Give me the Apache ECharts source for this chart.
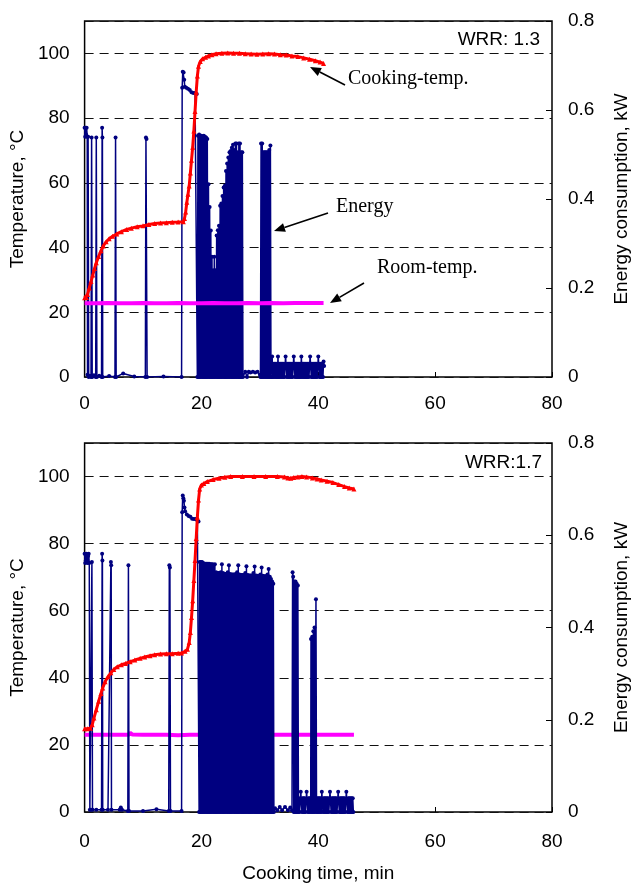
<!DOCTYPE html>
<html>
<head>
<meta charset="utf-8">
<script src="https://cdn.jsdelivr.net/npm/echarts@6/dist/echarts.min.js"></script>
<style>
html,body{margin:0;padding:0;background:#fff;}
#c{width:639px;height:887px;}
</style>
</head>
<body>
<div id="c"></div>
<script>
// ---------- DATA ----------
const xTicks = [0, 20, 40, 60, 80];
const tempTicks = [0, 20, 40, 60, 80, 100];
const energyTicks = [0, 0.2, 0.4, 0.6, 0.8];
const panelLabels = ['WRR: 1.3', 'WRR:1.7'];

// Panel 1 (WRR 1.3): [time min, temperature °C]
const cookTemp13 = [[0,24.5],[0.3,24.6],[0.5,25.5],[0.8,27.5],[1.1,29.5],[1.4,31.5],[1.7,33.5],[2.0,35.3],[2.4,37.2],[2.8,39],[3.2,40.5],[3.7,41.8],[4.2,42.7],[4.8,43.5],[5.5,44.2],[6.3,44.9],[7.2,45.6],[8.0,46.0],[9.0,46.4],[10,46.7],[11,47.1],[12,47.4],[13,47.6],[14,47.7],[15,47.8],[16,47.9],[16.9,48.0],[17.1,49],[17.3,51],[17.5,54],[17.7,56.5],[17.9,59],[18.1,63],[18.3,67],[18.5,71],[18.7,76],[18.9,82],[19.1,88],[19.3,93],[19.5,96],[19.8,97.5],[20.2,98.3],[20.7,98.8],[21.2,99.2],[21.8,99.6],[22.5,99.9],[23.5,100],[24.5,100.1],[25.5,100],[26.5,100],[27.5,99.9],[28.5,99.8],[29.5,99.7],[30.5,99.8],[31.5,99.9],[32.5,99.8],[33.5,99.6],[34.5,99.5],[35.5,99.2],[36.5,99],[37.5,98.6],[38.5,98.2],[39.5,97.7],[40.3,97.3],[40.9,96.9]];
const roomTemp13 = [[0,22.8],[2,22.8],[4,22.9],[6,22.8],[8,22.8],[10,22.9],[12,22.8],[14,22.8],[16,22.9],[18,22.8],[20,22.8],[22,22.9],[24,22.8],[26,22.8],[28,22.9],[30,22.8],[32,22.9],[34,22.8],[36,22.9],[38,22.9],[40.9,22.9]];
// [time min, energy kW]
const energy13 = [[0,0.56],[0.1,0.54],[0.15,0.56],[0.25,0.545],[0.35,0.56],[0.45,0.54],[0.5,0.005],[0.6,0.54],[0.7,0],[0.9,0.003],[1.1,0],[1.2,0.538],[1.3,0],[1.6,0.004],[1.9,0],[2.0,0.538],[2.1,0],[2.5,0.003],[2.9,0],[3.0,0.56],[3.05,0.538],[3.1,0],[4.2,0.002],[5.2,0],[5.3,0.538],[5.4,0],[6.6,0.008],[8.5,0.001],[10.4,0],[10.5,0.538],[10.6,0.535],[10.7,0],[13.5,0.001],[16.6,0],[16.7,0.65],[16.8,0.686],[16.95,0.684],[17.05,0.668],[17.15,0.652],[17.4,0.65],[17.7,0.648],[18.0,0.645],[18.3,0.64],[18.6,0.638],[18.9,0.638],[19.2,0.636],[19.3,0],
[19.4,0.542],[19.5,0],[19.6,0.545],[19.7,0],[19.8,0.54],[19.9,0],[20.0,0.542],[20.1,0],[20.2,0.54],[20.3,0],[20.4,0.542],[20.5,0],[20.6,0.54],[20.7,0],[20.8,0.538],[20.9,0],[21.0,0.535],[21.1,0],[21.2,0.433],[21.3,0],[21.4,0.382],[21.5,0],[21.6,0.329],[21.7,0],[21.8,0.27],[21.9,0],[22.0,0.24],[22.1,0],[22.2,0.27],[22.3,0],[22.4,0.24],[22.5,0],[22.6,0.318],[22.7,0],[22.8,0.33],[22.9,0],[23.0,0.34],[23.1,0],[23.2,0.385],[23.3,0],[23.4,0.39],[23.5,0],[23.6,0.407],[23.7,0],[23.8,0.426],[23.9,0],[24.0,0.43],[24.1,0],[24.2,0.463],[24.3,0],[24.4,0.48],[24.5,0],[24.6,0.493],[24.7,0],[24.8,0.505],[24.9,0],[25.0,0.508],[25.1,0],[25.2,0.515],[25.3,0],[25.4,0.522],[25.5,0],[25.6,0.51],[25.7,0],[25.8,0.525],[25.9,0],[26.0,0.525],[26.1,0],[26.2,0.505],[26.3,0],[26.4,0.525],[26.5,0],[26.6,0.525],[26.7,0],[26.8,0.505],[26.9,0],[27.0,0.505],[27.1,0],
[27.5,0.012],[27.8,0],[28.1,0.012],[28.4,0.01],[28.8,0.012],[29.2,0.01],[29.6,0.012],[30.0,0.005],[30.1,0],[30.2,0.525],[30.3,0],[30.4,0.525],[30.5,0],[30.6,0.505],[30.7,0],[30.8,0.505],[30.9,0],[31.0,0.505],[31.1,0],[31.2,0.505],[31.3,0],[31.4,0.505],[31.5,0],[31.6,0.51],[31.7,0],[31.8,0.52],[31.9,0],
[32.0,0],[32.1,0.046],[32.2,0],[32.3,0.03],[32.4,0],[32.5,0.03],[32.6,0],[32.7,0.03],[32.8,0],[32.9,0.03],[33.0,0],[33.1,0.046],[33.2,0],[33.3,0.03],[33.4,0],[33.5,0.03],[33.6,0],[33.7,0.03],[33.8,0],[33.9,0.03],[34.0,0],[34.1,0.03],[34.2,0],[34.4,0.046],[34.6,0],[34.7,0.03],[34.8,0],[34.9,0.03],[35.0,0],[35.1,0.03],[35.2,0],[35.3,0.03],[35.4,0],[35.5,0.03],[35.6,0],[35.8,0.046],[36.0,0],[36.1,0.03],[36.2,0],[36.3,0.03],[36.4,0],[36.5,0.03],[36.6,0],[36.7,0.03],[36.8,0],[36.9,0.03],[37.0,0],[37.1,0.046],[37.2,0],[37.3,0.03],[37.4,0],[37.5,0.03],[37.6,0],[37.7,0.03],[37.8,0],[37.9,0.03],[38.0,0],[38.1,0.03],[38.2,0],[38.3,0.03],[38.4,0],[38.6,0.046],[38.8,0],[38.9,0.03],[39.0,0],[39.1,0.03],[39.2,0],[39.3,0.03],[39.4,0],[39.5,0.03],[39.6,0],[39.7,0.03],[39.8,0],[40.0,0.046],[40.2,0],[40.3,0.03],[40.4,0],[40.5,0.03],[40.6,0],[40.7,0.03],[40.8,0],[40.9,0.035],[41.0,0.025]];

// Panel 2 (WRR 1.7)
const cookTemp17 = [[0,24.8],[0.5,24.8],[1.0,25],[1.3,26],[1.6,28],[2.0,30.5],[2.4,33],[2.8,35.3],[3.1,37],[3.5,38.8],[4.0,40.3],[4.5,41.5],[5.0,42.5],[5.6,43.3],[6.3,43.9],[7.0,44.3],[7.8,44.8],[8.6,45.3],[9.5,45.8],[10.3,46.2],[11.2,46.6],[12.0,46.9],[13.0,47.1],[14,47.2],[15,47.2],[16,47.3],[16.6,47.4],[17.2,47.9],[17.6,48.5],[17.9,50.5],[18.1,53.5],[18.3,58],[18.5,63],[18.7,69],[18.9,75],[19.1,81.5],[19.3,87.9],[19.5,93],[19.7,96.3],[20.0,97.5],[20.4,97.9],[21.0,98.5],[22,99.1],[23,99.5],[24,99.8],[25,100],[27,100],[29,100],[31,100],[33,100],[34.2,99.9],[34.8,99.6],[35.3,99.5],[35.8,99.7],[36.5,99.9],[37.2,100],[38,99.9],[39,99.6],[39.8,99.3],[40.5,99],[41.5,98.6],[42.5,98.2],[43.5,97.6],[44.5,97],[45.3,96.6],[46.1,96.3]];
const roomTemp17 = [[0,23],[2,23],[4,23],[6,23],[7.5,23],[7.8,23.6],[8.2,23.1],[10,23],[12,23],[14,23],[16,22.9],[18,23],[20,23],[22,23],[24,23],[26,23],[28,23],[30,23],[32,23],[34,23],[36,23],[38,23],[40,23],[42,23],[44,23],[46.1,23]];
const energy17 = [[0,0.56],[0.1,0.54],[0.2,0.545],[0.3,0.56],[0.4,0.55],[0.5,0.54],[0.6,0.555],[0.7,0.56],[0.8,0.54],[0.9,0.005],[1.1,0.005],[1.25,0.542],[1.35,0.005],[2.0,0.005],[2.9,0.005],[3.0,0.56],[3.05,0.545],[3.1,0.005],[4.0,0.005],[4.5,0.542],[4.55,0.535],[4.6,0.005],[6.0,0.005],[6.2,0.01],[6.4,0.005],[7.4,0.002],[7.5,0.535],[7.6,0.002],[10,0.002],[12.3,0.006],[14.4,0.002],[14.5,0.535],[14.6,0.53],[14.7,0.002],[16.6,0.002],[16.7,0.65],[16.8,0.686],[16.9,0.68],[17.0,0.675],[17.1,0.66],[17.2,0.652],[17.5,0.645],[17.8,0.642],[18.1,0.64],[18.4,0.636],[18.7,0.635],[19.0,0.635],[19.3,0.632],[19.5,0.63],[19.6,0],
[19.7,0.542],[19.8,0],[19.9,0.542],[20.0,0],[20.1,0.542],[20.2,0],[20.3,0.54],[20.4,0],[20.5,0.538],[20.6,0],[20.7,0.538],[20.8,0],[20.9,0.538],[21.0,0],[21.1,0.538],[21.2,0],[21.3,0.538],[21.4,0],[21.5,0.537],[21.6,0],[21.7,0.537],[21.8,0],[21.9,0.537],[22.0,0],[22.1,0.536],[22.2,0],[22.3,0.537],[22.4,0],[22.5,0.52],[22.6,0],[22.7,0.518],[22.8,0],[22.9,0.518],[23.0,0],[23.1,0.518],[23.2,0],[23.3,0.52],[23.4,0],[23.5,0.537],[23.6,0],[23.7,0.518],[23.8,0],[23.9,0.516],[24.0,0],[24.1,0.516],[24.2,0],[24.3,0.516],[24.4,0],[24.5,0.52],[24.6,0],[24.7,0.535],[24.8,0],[24.9,0.516],[25.0,0],[25.1,0.515],[25.2,0],[25.3,0.515],[25.4,0],[25.5,0.515],[25.6,0],[25.7,0.515],[25.8,0],[25.9,0.516],[26.0,0],[26.1,0.52],[26.2,0],[26.3,0.535],[26.4,0],[26.5,0.515],[26.6,0],[26.7,0.514],[26.8,0],[26.9,0.514],[27.0,0],[27.1,0.514],[27.2,0],[27.3,0.514],[27.4,0],[27.5,0.518],[27.6,0],[27.7,0.533],[27.8,0],[27.9,0.514],[28.0,0],[28.1,0.513],[28.2,0],[28.3,0.513],[28.4,0],[28.5,0.513],[28.6,0],[28.7,0.513],[28.8,0],[28.9,0.518],[29.0,0],[29.1,0.532],[29.2,0],[29.3,0.513],[29.4,0],[29.5,0.512],[29.6,0],[29.7,0.512],[29.8,0],[29.9,0.512],[30.0,0],[30.1,0.515],[30.2,0],[30.3,0.53],[30.4,0],[30.5,0.512],[30.6,0],[30.7,0.511],[30.8,0],[30.9,0.511],[31.0,0],[31.1,0.511],[31.2,0],[31.3,0.515],[31.4,0],[31.5,0.527],[31.6,0],[31.7,0.51],[31.8,0],[31.9,0.505],[32.0,0],[32.1,0.5],[32.2,0],[32.3,0.495],[32.4,0],
[32.6,0.008],[33.0,0.004],[33.4,0.011],[33.8,0.004],[34.3,0.011],[34.8,0.004],[35.2,0.01],[35.5,0.004],[35.6,0.52],[35.7,0.51],[35.8,0],[35.9,0.5],[36.0,0],[36.1,0.5],[36.2,0],[36.3,0.495],[36.4,0],[36.5,0.491],[36.6,0],
[36.7,0.03],[36.8,0],[37.0,0.044],[37.2,0],[37.3,0.03],[37.4,0],[37.5,0.03],[37.6,0],[37.7,0.03],[37.8,0],[38.0,0.044],[38.2,0],[38.3,0.03],[38.4,0],[38.5,0.03],[38.6,0],[38.7,0.03],
[38.75,0.375],[38.85,0],[38.95,0.38],[39.05,0],[39.15,0.392],[39.25,0],[39.35,0.4],[39.45,0],[39.6,0.461],[39.7,0],
[39.8,0.03],[39.9,0],[40.0,0.03],[40.1,0],[40.2,0.03],[40.3,0],[40.4,0.03],[40.5,0],[40.6,0.044],[40.8,0],[40.9,0.03],[41.0,0],[41.1,0.03],[41.2,0],[41.3,0.03],[41.4,0],[41.5,0.03],[41.6,0],[41.7,0.03],[41.8,0],[42.0,0.044],[42.2,0],[42.3,0.03],[42.4,0],[42.5,0.03],[42.6,0],[42.7,0.03],[42.8,0],[42.9,0.03],[43.0,0],[43.1,0.03],[43.2,0],[43.4,0.044],[43.6,0],[43.7,0.03],[43.8,0],[43.9,0.03],[44.0,0],[44.1,0.03],[44.2,0],[44.3,0.03],[44.4,0],[44.5,0.03],[44.6,0],[44.8,0.044],[45.0,0],[45.1,0.03],[45.2,0],[45.3,0.03],[45.4,0],[45.5,0.03],[45.6,0],[45.7,0.03],[45.8,0],[45.9,0.03],[46.0,0]];

// ---------- CHART ----------
const SANS = 'Liberation Sans, Arial, sans-serif';
const SERIF = 'Liberation Serif, Times New Roman, serif';
const chart = echarts.init(document.getElementById('c'), null, {renderer: 'canvas'});

const grids = [
  {left: 82, top: 21, width: 478, height: 356},
  {left: 82, top: 443, width: 478, height: 369}
];

function xAxis(gi, withName) {
  return {
    type: 'value', gridIndex: gi, min: xTicks[0], max: xTicks[xTicks.length - 1], interval: xTicks[1] - xTicks[0],
    axisLine: {show: false},
    axisTick: {show: true, inside: true, length: 5, lineStyle: {color: '#000', width: 1}},
    axisLabel: {color: '#000', fontSize: 19, fontFamily: SANS, margin: gi === 0 ? 17 : 20},
    splitLine: {show: false},
    name: withName ? 'Cooking time, min' : '',
    nameLocation: 'middle', nameGap: 52,
    nameTextStyle: {color: '#000', fontSize: 19, fontFamily: SANS}
  };
}
function tempAxis(gi) {
  return {
    type: 'value', gridIndex: gi, min: 0, max: 110, interval: tempTicks[1] - tempTicks[0],
    position: 'left',
    axisLine: {show: false},
    axisTick: {show: false},
    axisLabel: {color: '#000', fontSize: 19, fontFamily: SANS, margin: 15,
      formatter: v => (tempTicks.indexOf(v) >= 0 ? String(v) : '')},
    splitLine: {show: true, lineStyle: {color: '#111', width: 1, type: [9, 6]}},
    name: 'Temperature, \u00B0C', nameLocation: 'middle', nameRotate: 90, nameGap: 50,
    nameTextStyle: {color: '#000', fontSize: 19, fontFamily: SANS}
  };
}
function energyAxis(gi) {
  return {
    type: 'value', gridIndex: gi, min: energyTicks[0], max: energyTicks[energyTicks.length - 1],
    interval: energyTicks[1] - energyTicks[0], position: 'right',
    axisLine: {show: false},
    axisTick: {show: true, inside: true, length: 6, lineStyle: {color: '#000', width: 1}},
    axisLabel: {color: '#000', fontSize: 19, fontFamily: SANS, margin: 16},
    splitLine: {show: false},
    name: 'Energy consumption, kW', nameLocation: 'middle', nameRotate: 90, nameGap: 60,
    nameTextStyle: {color: '#000', fontSize: 19, fontFamily: SANS}
  };
}

function energySeries(gi, data, z) {
  return {type: 'line', name: 'Energy', xAxisIndex: gi, yAxisIndex: gi * 2 + 1, data: data,
    z: z, symbol: 'circle', symbolSize: 4, showSymbol: true,
    lineStyle: {color: '#000080', width: 1.5}, itemStyle: {color: '#000080'}, animation: false};
}
function cookSeries(gi, data, z) {
  return {type: 'line', name: 'Cooking-temp.', xAxisIndex: gi, yAxisIndex: gi * 2, data: data,
    z: z, symbol: 'triangle', symbolSize: 5, showSymbol: true,
    lineStyle: {color: '#FF0000', width: 3}, itemStyle: {color: '#FF0000'}, animation: false};
}
function roomSeries(gi, data, z) {
  return {type: 'line', name: 'Room-temp.', xAxisIndex: gi, yAxisIndex: gi * 2, data: data,
    z: z, symbol: 'none',
    lineStyle: {color: '#FF00FF', width: 4}, animation: false};
}

function arrow(x1, y1, x2, y2) {
  const ang = Math.atan2(y2 - y1, x2 - x1);
  const L = 11, W = 4.5;
  const bx = x2 - L * Math.cos(ang), by = y2 - L * Math.sin(ang);
  const px = -Math.sin(ang) * W, py = Math.cos(ang) * W;
  return [
    {type: 'line', shape: {x1: x1, y1: y1, x2: bx, y2: by}, style: {stroke: '#000', lineWidth: 1.6}, z: 100},
    {type: 'polygon', shape: {points: [[x2, y2], [bx + px, by + py], [bx - px, by - py]]}, style: {fill: '#000'}, z: 100}
  ];
}

const graphics = [
  {type: 'text', style: {x: 540, y: 40, text: panelLabels[0], fill: '#000', font: '19px ' + SANS, textAlign: 'right', textVerticalAlign: 'middle'}, z: 100},
  {type: 'text', style: {x: 542, y: 463, text: panelLabels[1], fill: '#000', font: '19px ' + SANS, textAlign: 'right', textVerticalAlign: 'middle'}, z: 100},
  {type: 'text', style: {x: 348, y: 79, text: 'Cooking-temp.', fill: '#000', font: '20px ' + SERIF, textAlign: 'left', textVerticalAlign: 'middle'}, z: 100},
  {type: 'text', style: {x: 336, y: 207, text: 'Energy', fill: '#000', font: '20px ' + SERIF, textAlign: 'left', textVerticalAlign: 'middle'}, z: 100},
  {type: 'text', style: {x: 377, y: 268, text: 'Room-temp.', fill: '#000', font: '20px ' + SERIF, textAlign: 'left', textVerticalAlign: 'middle'}, z: 100}
].concat(arrow(345, 85, 310, 67), arrow(328, 213, 274, 231), arrow(364, 283, 330, 303));

const option = {
  animation: false,
  backgroundColor: '#fff',
  grid: grids.map(g => Object.assign({show: true, borderColor: '#000', borderWidth: 1.5, backgroundColor: 'transparent', containLabel: false}, g)),
  xAxis: [xAxis(0, false), xAxis(1, true)],
  yAxis: [tempAxis(0), energyAxis(0), tempAxis(1), energyAxis(1)],
  series: [
    energySeries(0, energy13, 2),
    cookSeries(0, cookTemp13, 3),
    roomSeries(0, roomTemp13, 4),
    roomSeries(1, roomTemp17, 2),
    energySeries(1, energy17, 3),
    cookSeries(1, cookTemp17, 4)
  ],
  graphic: graphics
};
chart.setOption(option);
</script>
</body>
</html>
